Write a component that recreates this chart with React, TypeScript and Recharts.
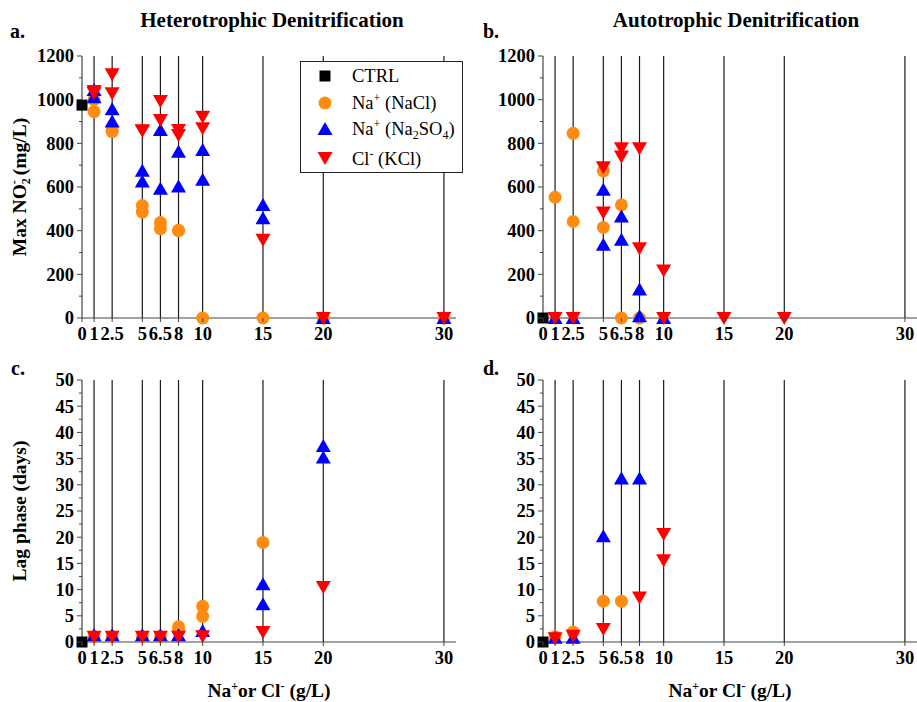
import React from "react";
import { ScatterChart, Scatter, XAxis, YAxis, ReferenceLine } from "recharts";

// ---------- data ----------
const concentrations = [0, 1, 2.5, 5, 6.5, 8, 10, 15, 20, 30];
const maxTicks = [0, 100, 200, 300, 400, 500, 600, 700, 800, 900, 1000, 1100, 1200];
const lagTicks = [0, 2.5, 5, 7.5, 10, 12.5, 15, 17.5, 20, 22.5, 25, 27.5, 30, 32.5, 35, 37.5, 40, 42.5, 45, 47.5, 50];

// Heterotrophic – max NO2- (mg/L)
const hetMaxCtrl: [number, number][] = [[0, 975]];
const hetMaxNaCl: [number, number][] = [[1, 1000], [1, 945], [2.5, 860], [2.5, 854], [5, 515], [5, 485], [6.5, 437], [6.5, 409], [8, 402], [8, 400], [10, 0], [15, 0], [20, 0], [30, 0]];
const hetMaxNa2SO4: [number, number][] = [[1, 1044], [1, 1011], [2.5, 956], [2.5, 900], [5, 675], [5, 625], [6.5, 861], [6.5, 592], [8, 762], [8, 602], [10, 770], [10, 633], [15, 518], [15, 457], [20, 0], [30, 0]];
const hetMaxKCl: [number, number][] = [[1, 1040], [1, 1030], [2.5, 1116], [2.5, 1029], [5, 860], [5, 858], [6.5, 994], [6.5, 907], [8, 861], [8, 838], [10, 922], [10, 869], [15, 358], [20, 0], [30, 0]];

// Autotrophic – max NO2- (mg/L)
const autMaxCtrl: [number, number][] = [[0, 0]];
const autMaxNaCl: [number, number][] = [[1, 553], [2.5, 846], [2.5, 442], [5, 674], [5, 415], [6.5, 518], [6.5, 0], [8, 0]];
const autMaxNa2SO4: [number, number][] = [[1, 0], [2.5, 0], [5, 587], [5, 335], [6.5, 465], [6.5, 358], [8, 130], [8, 8], [10, 0]];
const autMaxKCl: [number, number][] = [[1, 0], [2.5, 0], [5, 691], [5, 483], [6.5, 778], [6.5, 740], [8, 778], [8, 320], [10, 217], [10, 0], [15, 0], [20, 0]];

// Heterotrophic – lag phase (days)
const hetLagCtrl: [number, number][] = [[0, 0]];
const hetLagNaCl: [number, number][] = [[1, 1], [2.5, 1], [5, 1], [6.5, 1], [8, 2.9], [8, 2.2], [10, 6.8], [10, 4.9], [15, 19]];
const hetLagNa2SO4: [number, number][] = [[1, 1.3], [2.5, 1.3], [5, 1.3], [6.5, 1.3], [8, 1.3], [10, 2.1], [15, 11], [15, 7.2], [20, 37.4], [20, 35.2]];
const hetLagKCl: [number, number][] = [[1, 1], [2.5, 1], [5, 1], [6.5, 1], [8, 1], [10, 1.1], [15, 1.9], [20, 10.5]];

// Autotrophic – lag phase (days)
const autLagCtrl: [number, number][] = [[0, 0]];
const autLagNaCl: [number, number][] = [[1, 1], [2.5, 1.9], [5, 7.8], [6.5, 7.8]];
const autLagNa2SO4: [number, number][] = [[1, 0.8], [2.5, 0.8], [5, 20.2], [6.5, 31.2], [8, 31.2]];
const autLagKCl: [number, number][] = [[1, 0.7], [2.5, 1.2], [5, 2.5], [8, 8.5], [10, 20.6], [10, 15.6]];

// ---------- styles ----------
const FONT = "'Liberation Serif', 'Times New Roman', serif";
const ORANGE = "#FF8C10";
const BLUE = "#0000FF";
const RED = "#FF0000";
const AXIS = "#444";
const TICK_FS = 18.5;
const LABEL_FS = 19.5;

const toPts = (arr: [number, number][]) => arr.map(([x, y]) => ({ x, y }));

const SquareShape = (p: any) => <rect x={p.cx - 5.5} y={p.cy - 5.5} width={11} height={11} fill="#000" />;
const CircleShape = (p: any) => <circle cx={p.cx} cy={p.cy} r={6.5} fill={ORANGE} />;
const UpShape = (p: any) => (
  <polygon points={`${p.cx},${p.cy - 7} ${p.cx - 7.5},${p.cy + 6} ${p.cx + 7.5},${p.cy + 6}`} fill={BLUE} />
);
const DownShape = (p: any) => (
  <polygon points={`${p.cx},${p.cy + 7} ${p.cx - 7.5},${p.cy - 6} ${p.cx + 7.5},${p.cy - 6}`} fill={RED} />
);

const makeYTick = (majorStep: number) => (props: any) => {
  const { x, y, payload } = props;
  const v = payload.value;
  const isMajor = Math.abs(v / majorStep - Math.round(v / majorStep)) < 1e-6;
  return (
    <g>
      <line x1={x - (isMajor ? 5 : 3)} x2={x} y1={y} y2={y} stroke={AXIS} strokeWidth={1} />
      {isMajor && (
        <text x={x - 8} y={y} dy="0.35em" textAnchor="end" fontFamily={FONT} fontWeight="bold" fontSize={TICK_FS} fill="#000">
          {v}
        </text>
      )}
    </g>
  );
};

const XTick = (props: any) => {
  const { x, y, payload } = props;
  return (
    <g>
      <line x1={x} x2={x} y1={y} y2={y + 4} stroke={AXIS} strokeWidth={1} />
      <text x={x} y={y + 22} textAnchor="middle" fontFamily={FONT} fontWeight="bold" fontSize={TICK_FS} fill="#000">
        {payload.value}
      </text>
    </g>
  );
};

type PanelProps = {
  left: number;
  top: number;
  width: number;
  height: number;
  margin: { top: number; right: number; bottom: number; left: number };
  yMax: number;
  yTicks: number[];
  majorStep: number;
  ctrl: [number, number][];
  nacl: [number, number][];
  na2so4: [number, number][];
  kcl: [number, number][];
};

const Panel = (p: PanelProps) => (
  <div style={{ position: "absolute", left: p.left, top: p.top }}>
    <ScatterChart width={p.width} height={p.height} margin={p.margin}>
      <XAxis
        type="number"
        dataKey="x"
        domain={[0, 31]}
        ticks={concentrations}
        interval={0}
        height={30}
        tickSize={0}
        tickMargin={0}
        tickLine={false}
        tick={XTick}
        axisLine={{ stroke: AXIS, strokeWidth: 1.2 }}
      />
      <YAxis
        type="number"
        dataKey="y"
        domain={[0, p.yMax]}
        ticks={p.yTicks}
        interval={0}
        width={40}
        tickSize={0}
        tickMargin={0}
        tickLine={false}
        tick={makeYTick(p.majorStep)}
        axisLine={{ stroke: AXIS, strokeWidth: 1.2 }}
      />
      {concentrations.slice(1).map((c) => (
        <ReferenceLine key={c} x={c} stroke="#1a1a1a" strokeWidth={1.2} />
      ))}
      <Scatter data={toPts(p.ctrl)} shape={SquareShape} isAnimationActive={false} />
      <Scatter data={toPts(p.nacl)} shape={CircleShape} isAnimationActive={false} />
      <Scatter data={toPts(p.na2so4)} shape={UpShape} isAnimationActive={false} />
      <Scatter data={toPts(p.kcl)} shape={DownShape} isAnimationActive={false} />
    </ScatterChart>
  </div>
);

const Legend = () => (
  <svg style={{ position: "absolute", left: 300, top: 61 }} width={164} height={113}>
    <rect x={0.5} y={0.5} width={162} height={111} fill="#fff" stroke="#222" strokeWidth={1} />
    <rect x={19.5} y={9.5} width={11} height={11} fill="#000" />
    <circle cx={25} cy={42} r={6.5} fill={ORANGE} />
    <polygon points="25,61 17.5,74 32.5,74" fill={BLUE} />
    <polygon points="25,104 17.5,91 32.5,91" fill={RED} />
    <g fontFamily={FONT} fontSize={18.5} fill="#000">
      <text x={52} y={21}>CTRL</text>
      <text x={52} y={48}>
        Na<tspan dy={-7} fontSize={12}>+</tspan>
        <tspan dy={7}> (NaCl)</tspan>
      </text>
      <text x={52} y={74}>
        Na<tspan dy={-7} fontSize={12}>+</tspan>
        <tspan dy={7}> (Na</tspan>
        <tspan dy={4} fontSize={12}>2</tspan>
        <tspan dy={-4}>SO</tspan>
        <tspan dy={4} fontSize={12}>4</tspan>
        <tspan dy={-4}>)</tspan>
      </text>
      <text x={52} y={104}>
        Cl<tspan dy={-7} fontSize={12}>-</tspan>
        <tspan dy={7}> (KCl)</tspan>
      </text>
    </g>
  </svg>
);

const Annotations = () => (
  <svg style={{ position: "absolute", left: 0, top: 0, pointerEvents: "none" }} width={917} height={702}>
    <g fontFamily={FONT} fontWeight="bold" fill="#000">
      <text x={272} y={27} textAnchor="middle" fontSize={21}>Heterotrophic Denitrification</text>
      <text x={736} y={27} textAnchor="middle" fontSize={21}>Autotrophic Denitrification</text>
      <text x={10} y={38} fontSize={20}>a.</text>
      <text x={483} y={38} fontSize={20}>b.</text>
      <text x={11} y={375} fontSize={20}>c.</text>
      <text x={483} y={375} fontSize={20}>d.</text>
      <text transform="translate(26,187) rotate(-90)" textAnchor="middle" fontSize={LABEL_FS}>
        Max NO<tspan dy={4} fontSize={12}>2</tspan>
        <tspan dy={-12} dx={-6} fontSize={12}>-</tspan>
        <tspan dy={8}> (mg/L)</tspan>
      </text>
      <text transform="translate(26,511) rotate(-90)" textAnchor="middle" fontSize={LABEL_FS}>Lag phase (days)</text>
      <text x={269} y={697} textAnchor="middle" fontSize={LABEL_FS}>
        Na<tspan dy={-7} fontSize={12}>+</tspan>
        <tspan dy={7}>or Cl</tspan>
        <tspan dy={-7} fontSize={12}>-</tspan>
        <tspan dy={7}> (g/L)</tspan>
      </text>
      <text x={730} y={697} textAnchor="middle" fontSize={LABEL_FS}>
        Na<tspan dy={-7} fontSize={12}>+</tspan>
        <tspan dy={7}>or Cl</tspan>
        <tspan dy={-7} fontSize={12}>-</tspan>
        <tspan dy={7}> (g/L)</tspan>
      </text>
    </g>
  </svg>
);

export default function App() {
  const topMargin = { top: 56, right: 4, bottom: 12, left: 42 };
  const topMarginR = { top: 56, right: 0, bottom: 12, left: 43 };
  const botMargin = { top: 20, right: 4, bottom: 30, left: 42 };
  const botMarginR = { top: 20, right: 0, bottom: 30, left: 43 };
  return (
    <div style={{ position: "fixed", left: 0, top: 0, width: 917, height: 702, background: "#fff", overflow: "hidden" }}>
      <Panel left={0} top={0} width={460} height={360} margin={topMargin} yMax={1200} yTicks={maxTicks} majorStep={200}
        ctrl={hetMaxCtrl} nacl={hetMaxNaCl} na2so4={hetMaxNa2SO4} kcl={hetMaxKCl} />
      <Panel left={460} top={0} width={457} height={360} margin={topMarginR} yMax={1200} yTicks={maxTicks} majorStep={200}
        ctrl={autMaxCtrl} nacl={autMaxNaCl} na2so4={autMaxNa2SO4} kcl={autMaxKCl} />
      <Panel left={0} top={360} width={460} height={342} margin={botMargin} yMax={50} yTicks={lagTicks} majorStep={5}
        ctrl={hetLagCtrl} nacl={hetLagNaCl} na2so4={hetLagNa2SO4} kcl={hetLagKCl} />
      <Panel left={460} top={360} width={457} height={342} margin={botMarginR} yMax={50} yTicks={lagTicks} majorStep={5}
        ctrl={autLagCtrl} nacl={autLagNaCl} na2so4={autLagNa2SO4} kcl={autLagKCl} />
      <Legend />
      <Annotations />
    </div>
  );
}
